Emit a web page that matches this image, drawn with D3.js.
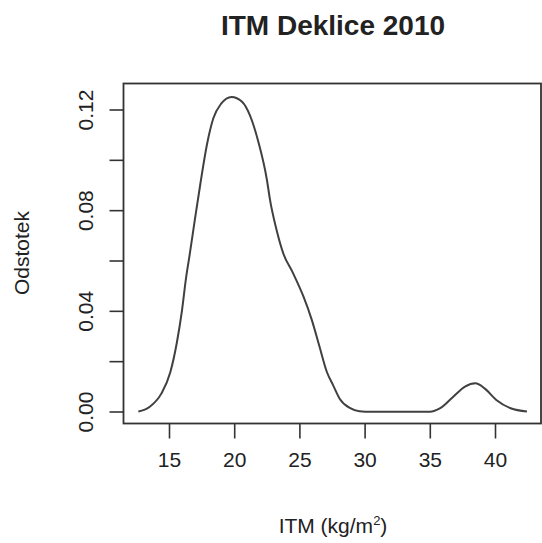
<!DOCTYPE html>
<head>
  <meta charset="utf-8" />
  <script src="https://d3js.org/d3.v7.min.js"></script>
  <style>
    body {
      margin: 0;
      background: #fff;
    }
    text {
      font-family: "Liberation Sans", Arial, sans-serif;
      fill: #222;
    }
    .axis path,
    .axis line {
      stroke: #333;
      stroke-width: 1.6px;
    }
    .axis text {
      font-size: 21px;
    }
  </style>
</head>

<body>
  <script>
    var width = 542,
      height = 543;

    // krivulja gostote (odčitano s slike)
    var itm = [12.65, 13.5, 14.4, 15.1, 15.6, 16.0, 16.3, 16.6, 17.0, 17.4, 17.9, 18.4,
      19.0, 19.8, 20.6, 21.2, 21.85, 22.5, 22.75, 23.25, 23.75, 24.5, 25.3, 25.95, 26.55,
      27.1, 27.6, 28.1, 28.9, 29.6, 30.5, 35.0, 35.8, 36.8, 37.7, 38.5, 39.2, 40.1, 41.2, 42.45];
    var gostota = [0.0002, 0.0020, 0.0072, 0.0158, 0.0275, 0.0405, 0.0530, 0.0630,
      0.0770, 0.0905, 0.1060, 0.1167, 0.1225, 0.1252, 0.1233, 0.1180, 0.1074, 0.0925,
      0.0842, 0.0723, 0.0632, 0.0553, 0.0460, 0.0366, 0.0258, 0.0160, 0.0105, 0.0052,
      0.0015, 0.0003, 0.0001, 0.0001, 0.0015, 0.0061, 0.0101, 0.0114, 0.0094, 0.0048,
      0.0015, 0.0002];

    var xTicks = [15, 20, 25, 30, 35, 40];
    var yTicks = [0, 0.02, 0.04, 0.06, 0.08, 0.10, 0.12];
    var yLabels = [0, 0.04, 0.08, 0.12];

    var svg = d3.select("body").append("svg")
      .attr("width", width)
      .attr("height", height);

    // box od plota
    var box = { left: 123.5, top: 83.5, right: 541, bottom: 423.5 };

    var x = d3.scaleLinear().domain([15, 40]).range([169, 495]);
    var y = d3.scaleLinear().domain([0, 0.12]).range([412, 110]);

    var data = itm.map(function (d, i) { return [d, gostota[i]]; });

    var line = d3.line()
      .x(function (d) { return x(d[0]); })
      .y(function (d) { return y(d[1]); })
      .curve(d3.curveMonotoneX);

    svg.append("path")
      .datum(data)
      .attr("d", line)
      .attr("fill", "none")
      .attr("stroke", "#404040")
      .attr("stroke-width", 2);

    svg.append("rect")
      .attr("x", box.left)
      .attr("y", box.top)
      .attr("width", box.right - box.left)
      .attr("height", box.bottom - box.top)
      .attr("fill", "none")
      .attr("stroke", "#333")
      .attr("stroke-width", 1.8);

    // x os
    var gx = svg.append("g")
      .attr("class", "axis")
      .attr("transform", "translate(0," + box.bottom + ")")
      .call(d3.axisBottom(x).tickValues(xTicks).tickSize(15).tickPadding(14).tickFormat(d3.format("d")));
    gx.select(".domain").remove();

    // y os
    var gy = svg.append("g")
      .attr("class", "axis")
      .attr("transform", "translate(" + box.left + ",0)")
      .call(d3.axisLeft(y).tickValues(yTicks).tickSize(14)
        .tickFormat(function (d) {
          return yLabels.some(function (v) { return Math.abs(v - d) < 1e-9; }) ? d3.format(".2f")(d) : "";
        }));
    gy.select(".domain").remove();
    gy.selectAll("text")
      .attr("transform", function () { return "rotate(-90)"; })
      .attr("x", function (d) { return -y(d); })
      .attr("y", -38)
      .attr("dy", "0.35em")
      .attr("text-anchor", "middle");
    gy.selectAll(".tick").attr("transform", "translate(0,0)");
    gy.selectAll(".tick line")
      .attr("y1", function (d) { return y(d); })
      .attr("y2", function (d) { return y(d); });

    // naslovi
    svg.append("text")
      .attr("x", 333)
      .attr("y", 35)
      .attr("text-anchor", "middle")
      .style("font-size", "28px")
      .style("font-weight", "bold")
      .text("ITM Deklice 2010");

    var xl = svg.append("text")
      .attr("x", 333)
      .attr("y", 533)
      .attr("text-anchor", "middle")
      .style("font-size", "21px");
    xl.append("tspan").text("ITM (kg/m");
    xl.append("tspan").text("2").attr("dy", -8).style("font-size", "13px");
    xl.append("tspan").text(")").attr("dy", 8);

    svg.append("text")
      .attr("transform", "translate(29,253) rotate(-90)")
      .attr("text-anchor", "middle")
      .style("font-size", "21px")
      .text("Odstotek");
  </script>
</body>
